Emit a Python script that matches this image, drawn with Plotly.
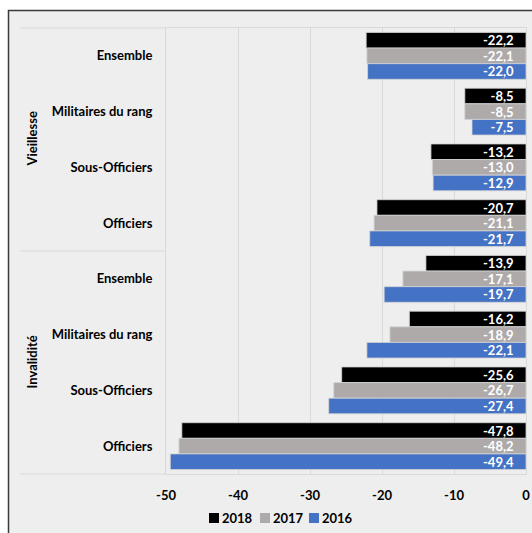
import plotly.graph_objects as go

groups = ["Vieillesse", "Invalidité"]
categories = ["Ensemble", "Militaires du rang", "Sous-Officiers", "Officiers"]
years = ["2018", "2017", "2016"]
colors = ["#000000", "#aeaaaa", "#4472c4"]

values = {
    "2018": [-22.2, -8.5, -13.2, -20.7, -13.9, -16.2, -25.6, -47.8],
    "2017": [-22.1, -8.5, -13.0, -21.1, -17.1, -18.9, -26.7, -48.2],
    "2016": [-22.0, -7.5, -12.9, -21.7, -19.7, -22.1, -27.4, -49.4],
}
x_ticks = [-50, -40, -30, -20, -10, 0]
x_ticktext = ["-50", "-40", "-30", "-20", "-10", "0"]

labels = [c for g in groups for c in categories]
ypos = list(range(len(labels)))

FONT = "Lato"
FS = 13
fig = go.Figure()
for yr, col in zip(years, colors):
    fig.add_trace(go.Bar(
        x=values[yr], y=ypos, orientation="h", name=yr,
        marker=dict(color=col, line=dict(color="#d4d4d4", width=0.8)),
        texttemplate="%{x:.1f}\u00a0\u00a0\u00a0", textposition="inside",
        insidetextanchor="start", constraintext="none",
        textfont=dict(color="white", size=FS, family=FONT, weight="bold"),
        hoverinfo="skip", showlegend=False,
    ))

BG = "#eeeeee"
L, R, T, B = 166, 6, 28, 59
W, H = 532, 533
pw, ph = W - L - R, H - T - B

def px(xp):
    return (xp - L) / pw

def py(yp):
    return (H - B - yp) / ph

shapes = [
    dict(type="rect", xref="paper", yref="paper", x0=px(8.5), x1=px(545), y0=py(10.5), y1=py(545),
         fillcolor=BG, line=dict(color="#3a3a3a", width=1.5), layer="below"),
]
for yv in [1, 0.5, 0]:
    shapes.append(dict(type="line", xref="paper", yref="paper", x0=px(20), x1=0, y0=yv, y1=yv,
                       line=dict(color="#d9d9d9", width=1)))

annotations = []
for i, g in enumerate(groups):
    annotations.append(dict(text=g, xref="paper", yref="paper", x=px(31), y=0.75 - 0.5 * i,
                            textangle=-90, showarrow=False, xanchor="center", yanchor="middle",
                            font=dict(size=FS, family=FONT, color="black", weight="bold")))

# legend keys (drawn manually to match the compact Excel-style legend)
leg_x = [209, 260, 309]
for yr, col, lx in zip(years, colors, leg_x):
    shapes.append(dict(type="rect", xref="paper", yref="paper", x0=px(lx), x1=px(lx + 10),
                       y0=py(523), y1=py(513), fillcolor=col, line=dict(width=0)))
    annotations.append(dict(text=yr, xref="paper", yref="paper", x=px(lx + 11), y=py(518),
                            xanchor="left", yanchor="middle", showarrow=False,
                            font=dict(size=FS, family=FONT, color="black", weight="bold")))

fig.update_layout(
    width=W, height=H, margin=dict(l=L, r=R, t=T, b=B, autoexpand=False),
    paper_bgcolor="white", plot_bgcolor=BG,
    barmode="group", bargap=0.16, bargroupgap=0,
    separators=", ",
    font=dict(family=FONT, size=FS, color="black", weight="bold"),
    shapes=shapes, annotations=annotations, showlegend=False,
    xaxis=dict(range=[-50, 0], tickvals=x_ticks, ticktext=x_ticktext, showgrid=True, gridcolor="#d9d9d9",
               zeroline=False, showline=True, linecolor="#d9d9d9", mirror=True,
               ticks="", ticklabelstandoff=9, tickfont=dict(size=FS, weight="bold")),
    yaxis=dict(range=[len(labels) - 0.5, -0.5], tickvals=ypos, ticktext=labels,
               showgrid=False, zeroline=False, showline=True, linecolor="#d9d9d9", mirror=True,
               ticks="", ticklabelstandoff=10, tickfont=dict(size=FS, weight="bold")),
)

fig.write_html("out.html")
